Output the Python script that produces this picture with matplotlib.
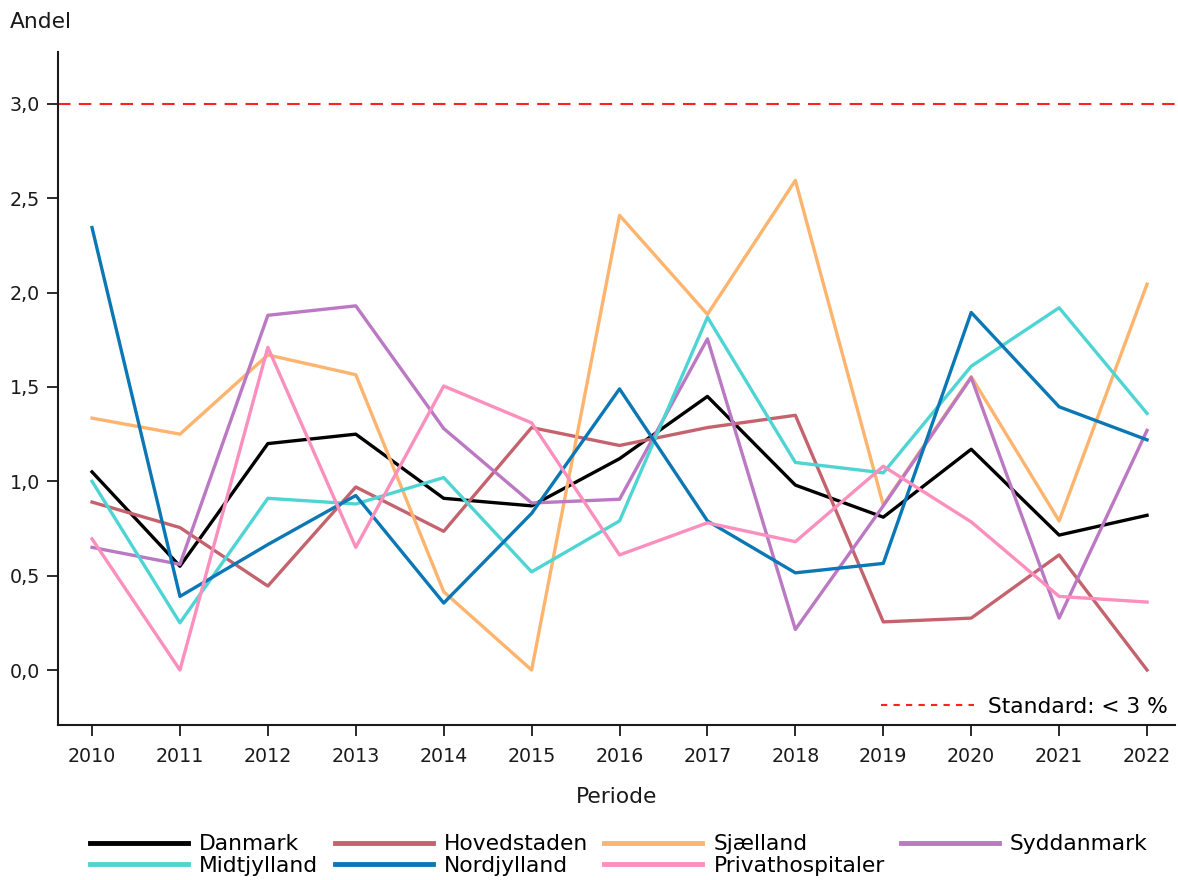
import matplotlib
matplotlib.use("Agg")
import matplotlib.pyplot as plt
from matplotlib.lines import Line2D

plt.rcParams['font.family'] = ['DejaVu Sans']

years = list(range(2010, 2023))

danmark = [1.05, 0.55, 1.20, 1.25, 0.91, 0.87, 1.12, 1.45, 0.98, 0.81, 1.17, 0.715, 0.82]
hovedstaden = [0.89, 0.755, 0.445, 0.97, 0.735, 1.285, 1.19, 1.285, 1.35, 0.255, 0.275, 0.61, 0.0]
sjaelland = [1.335, 1.25, 1.67, 1.565, 0.415, 0.0, 2.41, 1.885, 2.595, 0.875, 1.555, 0.79, 2.045]
syddanmark = [0.65, 0.56, 1.88, 1.93, 1.28, 0.885, 0.905, 1.755, 0.215, 0.87, 1.55, 0.275, 1.27]
midtjylland = [1.0, 0.25, 0.91, 0.88, 1.02, 0.52, 0.79, 1.87, 1.10, 1.045, 1.61, 1.92, 1.36]
nordjylland = [2.345, 0.39, 0.665, 0.925, 0.355, 0.83, 1.49, 0.79, 0.515, 0.565, 1.895, 1.395, 1.22]
privat = [0.695, 0.0, 1.71, 0.65, 1.505, 1.31, 0.61, 0.78, 0.68, 1.08, 0.785, 0.39, 0.36]

series_names = ['Danmark', 'Hovedstaden', 'Sjælland', 'Syddanmark',
                'Midtjylland', 'Nordjylland', 'Privathospitaler']
series_values = [danmark, hovedstaden, sjaelland, syddanmark,
                 midtjylland, nordjylland, privat]
colors = ['#000000', '#c4636d', '#fdb46e', '#bb78c3',
          '#4fd4d4', '#0b77b4', '#fb8fbd']

standard_value = 3.0
standard_label = 'Standard: < 3 %'
yticks = [0.0, 0.5, 1.0, 1.5, 2.0, 2.5, 3.0]
ytick_labels = ['0,0', '0,5', '1,0', '1,5', '2,0', '2,5', '3,0']

TXT = 15.7
TICK = 13.7
INK = '#1a1a1a'

fig = plt.figure(figsize=(11.78, 8.8), dpi=100)
ax = fig.add_axes([58/1178, 1-725/880, (1175-58)/1178, (725-52)/880])

lines = {}
for name, vals, col in zip(series_names, series_values, colors):
    ln, = ax.plot(years, vals, color=col, lw=2.4, label=name)
    lines[name] = ln

ax.axhline(standard_value, color='#ff2020', lw=1.5, ls=(0, (6, 4)))

ax.set_xlim(2009.613, 2022.318)
ax.set_ylim(-0.2915, 3.2755)
ax.set_xticks(years)
ax.set_xticklabels([str(y) for y in years], fontsize=TICK)
ax.set_yticks(yticks)
ax.set_yticklabels(ytick_labels, fontsize=TICK)
ax.tick_params(axis='both', direction='out', length=8, width=1.3, colors=INK, labelcolor=INK)
ax.tick_params(axis='x', pad=8)
ax.tick_params(axis='y', pad=5)
for s in ['top', 'right']:
    ax.spines[s].set_visible(False)
for s in ['left', 'bottom']:
    ax.spines[s].set_linewidth(1.5)
    ax.spines[s].set_color(INK)

ax.set_xlabel('Periode', fontsize=TXT, labelpad=15, color=INK)
fig.text(10/1178, 1-22/880, 'Andel', fontsize=TXT, va='center', ha='left', color=INK)

std_handle = Line2D([0], [0], color='#ff2020', lw=1.5, ls=(0, (3, 3)))
ax.legend([std_handle], [standard_label], loc='lower right', frameon=False,
          fontsize=TXT, handlelength=4.3, handletextpad=0.6,
          bbox_to_anchor=(1.003, -0.004), borderaxespad=0.1)

order = ['Danmark', 'Midtjylland', 'Hovedstaden', 'Nordjylland',
         'Sjælland', 'Privathospitaler', 'Syddanmark']
handles = [Line2D([0], [0], color=lines[n].get_color(), lw=3.5) for n in order]
fig.legend(handles, order, loc='center', bbox_to_anchor=(619/1178, 1-855/880),
           ncol=4, frameon=False, fontsize=TXT, handlelength=4.5, handletextpad=0.5,
           columnspacing=0.75, labelspacing=0.05)

fig.savefig('out.png', dpi=100)
